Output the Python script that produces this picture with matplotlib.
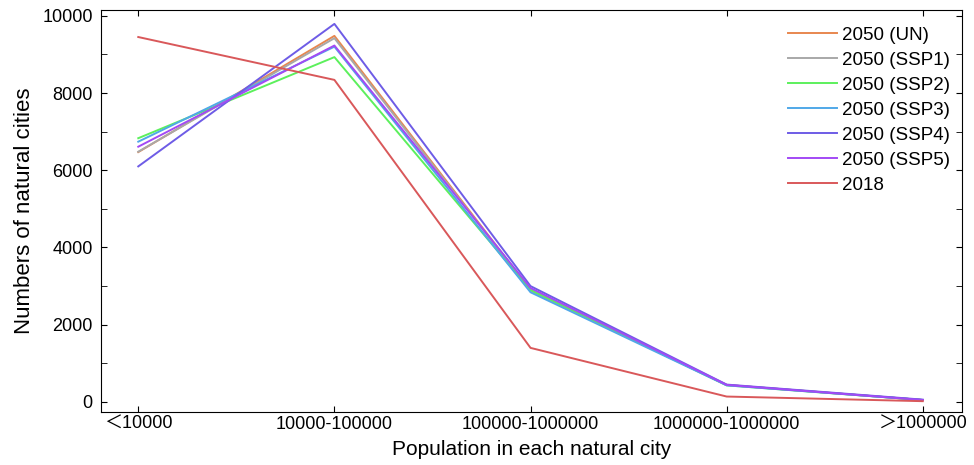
import numpy as np
from matplotlib import pyplot as plt
from matplotlib.ticker import MultipleLocator

plt.rcParams['font.family'] = ['Liberation Sans', 'Noto Sans CJK SC', 'DejaVu Sans']

categories = ['＜10000', '10000-100000', '100000-1000000', '1000000-1000000', '＞1000000']

un_2050 = [6470, 9480, 2900, 440, 50]
ssp1_2050 = [6480, 9420, 2880, 440, 50]
ssp2_2050 = [6830, 8930, 2900, 430, 50]
ssp3_2050 = [6740, 9200, 2840, 430, 50]
ssp4_2050 = [6100, 9790, 3000, 450, 60]
ssp5_2050 = [6610, 9230, 2950, 440, 50]
obs_2018 = [9450, 8340, 1400, 140, 20]

series = [
    ("2050 (UN)", un_2050, "#E8874F"),
    ("2050 (SSP1)", ssp1_2050, "#A8A8A8"),
    ("2050 (SSP2)", ssp2_2050, "#5CF05C"),
    ("2050 (SSP3)", ssp3_2050, "#50A8E8"),
    ("2050 (SSP4)", ssp4_2050, "#6E5CE6"),
    ("2050 (SSP5)", ssp5_2050, "#A24AF5"),
    ("2018", obs_2018, "#D9585A"),
]

fig = plt.figure(figsize=(9.74, 4.65), dpi=100)
ax = fig.add_axes([0.1037, 0.114, 0.884, 0.8645])

x = np.arange(len(categories))
for label, y, color in series:
    ax.plot(x, y, color=color, lw=1.4, label=label)

ax.set_xlim(-0.19, 4.2)
ax.set_ylim(-260, 10150)
ax.set_xticks(x)
ax.set_xticklabels(categories, fontsize=13)
ax.yaxis.set_major_locator(MultipleLocator(2000))
ax.yaxis.set_minor_locator(MultipleLocator(1000))
ax.tick_params(axis='y', labelsize=13, pad=6)
ax.tick_params(axis='x', pad=3)
ax.tick_params(which='both', direction='in', top=True, right=True, length=4)

ax.set_xlabel("Population in each natural city", fontsize=15, labelpad=5)
ax.set_ylabel("Numbers of natural cities", fontsize=16, labelpad=5)

ax.legend(loc='upper right', bbox_to_anchor=(1.006, 1.0), frameon=False,
          fontsize=13.5, handlelength=2.6, labelspacing=0.42, handletextpad=0.3)

plt.savefig("out.png", dpi=100)
